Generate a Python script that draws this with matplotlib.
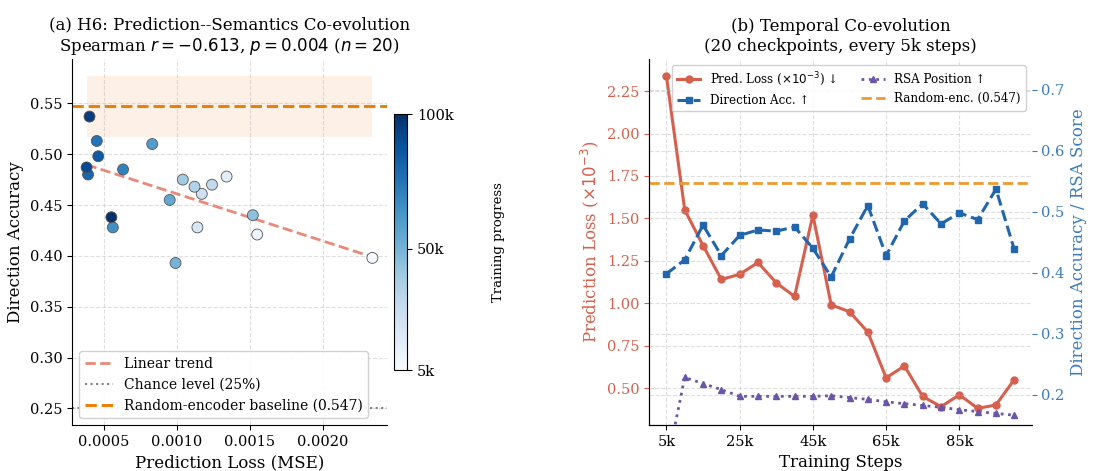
import numpy as np
import matplotlib
matplotlib.use("Agg")
import matplotlib.pyplot as plt

plt.rcParams['font.family'] = ['DejaVu Serif']
plt.rcParams['mathtext.fontset'] = 'dejavusans'

# ---------------- data ----------------
steps = [5, 10, 15, 20, 25, 30, 35, 40, 45, 50, 55, 60, 65, 70, 75, 80, 85, 90, 95, 100]  # in k
pred_loss = [2.34, 1.55, 1.34, 1.14, 1.17, 1.24, 1.12, 1.04, 1.52, 0.99,
             0.95, 0.83, 0.56, 0.63, 0.45, 0.39, 0.46, 0.38, 0.40, 0.55]  # x1e-3
dir_acc = [0.398, 0.421, 0.478, 0.428, 0.461, 0.470, 0.468, 0.475, 0.440, 0.393,
           0.455, 0.510, 0.428, 0.485, 0.513, 0.480, 0.498, 0.487, 0.537, 0.438]
rsa_pos = [0.08, 0.228, 0.218, 0.208, 0.197, 0.197, 0.197, 0.197, 0.197, 0.198,
           0.195, 0.192, 0.188, 0.185, 0.182, 0.179, 0.175, 0.172, 0.169, 0.166]
random_baseline = 0.547
chance_level = 0.25
xticks_right = [5, 25, 45, 65, 85]
cbar_ticks = [5, 50, 100]

steps_arr = np.array(steps) * 1000
mse = np.array(pred_loss) * 1e-3
acc = np.array(dir_acc)

fig = plt.figure(figsize=(11.14, 4.71), dpi=100)

# ---------------- panel (a) ----------------
ax1 = fig.add_axes([0.0649, 0.0977, 0.2822, 0.7764])
orange = '#e8820c'
ax1.fill_between([mse.min(), mse.max()], random_baseline - 0.03, random_baseline + 0.03,
                 color='#f4a460', alpha=0.15, zorder=0, linewidth=0)
sc = ax1.scatter(mse, acc, c=steps_arr, cmap='Blues', vmin=5000, vmax=100000,
                 s=62, edgecolors='#555555', linewidths=0.6, zorder=3)
coef = np.polyfit(mse, acc, 1)
xs = np.array([mse.min(), mse.max()])
ax1.plot(xs, np.polyval(coef, xs), '--', color='#e8897a', lw=2, label='Linear trend', zorder=2)
ax1.axhline(chance_level, color='gray', ls=':', lw=1.5, label='Chance level (25%)')
ax1.axhline(random_baseline, color=orange, ls='--', lw=2.2, label='Random-encoder baseline (0.547)')
ax1.set_xlabel('Prediction Loss (MSE)', fontsize=12)
ax1.set_ylabel('Direction Accuracy', fontsize=12)
ax1.set_title('(a) H6: Prediction--Semantics Co-evolution\nSpearman $r = -0.613$, $p = 0.004$ ($n = 20$)',
              fontsize=12)
ax1.grid(True, ls='--', alpha=0.4)
ax1.spines['top'].set_visible(False)
ax1.spines['right'].set_visible(False)
ax1.tick_params(labelsize=10.5)
ax1.set_xticks([0.0005, 0.0010, 0.0015, 0.0020])
ax1.set_xticklabels(['0.0005', '0.0010', '0.0015', '0.0020'])
ax1.legend(loc='lower left', fontsize=10, framealpha=0.9)

cax = fig.add_axes([0.3537, 0.2144, 0.0117, 0.5435])
cb = fig.colorbar(sc, cax=cax)
cb.set_ticks([t * 1000 for t in cbar_ticks])
cb.set_ticklabels([f'{t}k' for t in cbar_ticks])
cb.ax.tick_params(labelsize=10.5)
cb.set_label('Training progress', fontsize=9.5, labelpad=28)

# ---------------- panel (b) ----------------
red = '#d6604d'
blue = '#2166ac'
blue_txt = '#3a7bbf'
purple = '#6a55a8'
ax2 = fig.add_axes([0.5826, 0.0977, 0.3435, 0.7764])
ax3 = ax2.twinx()
l1, = ax2.plot(steps_arr, pred_loss, '-o', color=red, lw=2.2, ms=5, label='Pred. Loss ($\\times10^{-3}$) ↓')
l2, = ax3.plot(steps_arr, dir_acc, '--s', color=blue, lw=2.2, ms=5, label='Direction Acc. ↑')
l3, = ax3.plot(steps_arr, rsa_pos, ':^', color=purple, lw=2, ms=5, label='RSA Position ↑')
l4 = ax3.axhline(random_baseline, color='#ee9a30', ls='--', lw=2, label='Random-enc. (0.547)')
ax3.set_ylim(0.15, 0.75)
ax2.set_xticks([t * 1000 for t in xticks_right])
ax2.set_xticklabels([f'{t}k' for t in xticks_right])
ax2.set_xlabel('Training Steps', fontsize=12)
ax2.set_ylabel('Prediction Loss ($\\times10^{-3}$)', color=red, fontsize=12)
ax3.set_ylabel('Direction Accuracy / RSA Score', color=blue_txt, fontsize=12)
ax2.tick_params(axis='y', colors=red, labelsize=10.5)
ax2.tick_params(axis='x', labelsize=10.5)
ax3.tick_params(axis='y', colors=blue_txt, labelsize=10.5)
ax2.set_yticks([0.5, 0.75, 1.0, 1.25, 1.5, 1.75, 2.0, 2.25])
ax3.set_yticks([0.2, 0.3, 0.4, 0.5, 0.6, 0.7])
ax2.grid(True, ls='--', alpha=0.4)
ax3.grid(True, ls='--', alpha=0.4)
for a in (ax2, ax3):
    a.spines['top'].set_visible(False)
    a.spines['right'].set_visible(False)
ax2.set_title('(b) Temporal Co-evolution\n(20 checkpoints, every 5k steps)', fontsize=12)
ax3.legend([l1, l2, l3, l4], [h.get_label() for h in (l1, l2, l3, l4)],
           loc='upper right', ncol=2, fontsize=8.6, framealpha=0.9)

fig.savefig('out.png', dpi=100)
